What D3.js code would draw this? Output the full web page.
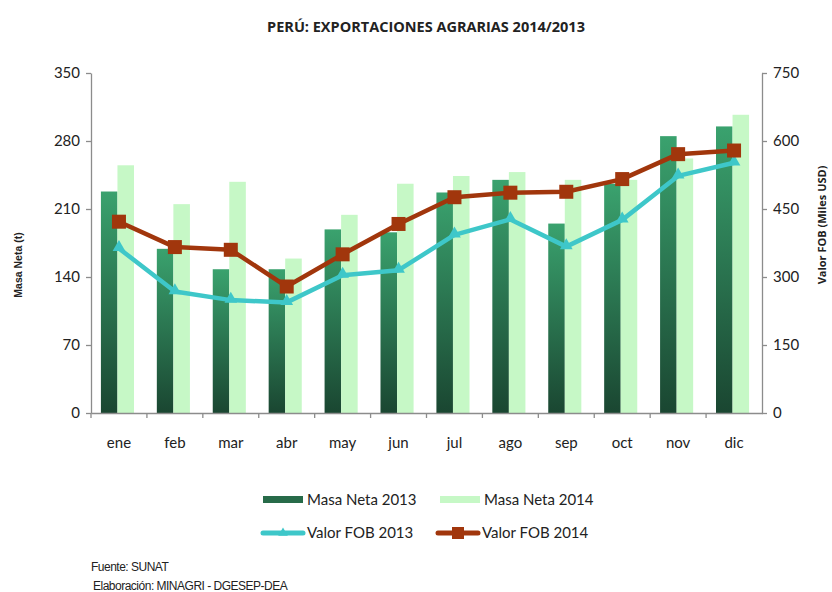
<!DOCTYPE html>
<html lang="es">
<head>
<meta charset="UTF-8">
<title>Perú: Exportaciones agrarias 2014/2013</title>
<style>
    body { margin: 0; background: #fff; }
    text { font-family: Lato, "Open Sans", sans-serif; fill: #222; }
    .tick text { font-size: 15px; }
    text.foot { font-family: "Liberation Sans", Arial, sans-serif; font-size: 12px; letter-spacing: -0.5px; }
</style>
</head>
<body>
<div id="wrapper"></div>
<script src="https://d3js.org/d3.v7.min.js"></script>
<script>
    // datos
    const months = ['ene', 'feb', 'mar', 'abr', 'may', 'jun', 'jul', 'ago', 'sep', 'oct', 'nov', 'dic'];
    const masa2013 = [228, 169, 148, 148, 189, 186, 227, 240, 195, 236, 285, 295];
    const masa2014 = [255, 215, 238, 159, 204, 236, 244, 248, 240, 240, 262, 307];
    const fob2013 = [363, 268, 249, 244, 304, 315, 393, 427, 367, 426, 523, 552];
    const fob2014 = [422, 366, 360, 279, 350, 417, 476, 486, 488, 516, 571, 579];
    const leftTicks = [0, 70, 140, 210, 280, 350];
    const rightTicks = [0, 150, 300, 450, 600, 750];

    const width = 832, height = 592;
    const plotLeft = 91, plotRight = 762, plotTop = 73, plotBottom = 413;

    const svg = d3.select('#wrapper').append('svg')
        .attr('width', width)
        .attr('height', height);

    // degradado de las barras oscuras
    const defs = svg.append('defs');
    const grad = defs.append('linearGradient')
        .attr('id', 'darkGrad')
        .attr('x1', 0).attr('y1', 0).attr('x2', 0).attr('y2', 1);
    grad.append('stop').attr('offset', '0%').attr('stop-color', '#3aa26e');
    grad.append('stop').attr('offset', '100%').attr('stop-color', '#1a4631');

    const x = d3.scaleBand().domain(months).range([plotLeft, plotRight]);
    const x1 = d3.scaleBand().domain(['2013', '2014'])
        .range([-1.5, x.bandwidth() - 1.5])
        .paddingOuter(0.69);
    const yL = d3.scaleLinear().domain([0, 350]).range([plotBottom, plotTop]);
    const yR = d3.scaleLinear().domain([0, 750]).range([plotBottom, plotTop]);

    // barras
    const g = svg.append('g');
    g.selectAll('.b13').data(masa2013).join('rect')
        .attr('class', 'b13')
        .attr('x', (d, i) => x(months[i]) + x1('2013'))
        .attr('y', d => yL(d))
        .attr('width', x1.bandwidth())
        .attr('height', d => yL(0) - yL(d))
        .attr('fill', 'url(#darkGrad)');
    g.selectAll('.b14').data(masa2014).join('rect')
        .attr('class', 'b14')
        .attr('x', (d, i) => x(months[i]) + x1('2014'))
        .attr('y', d => yL(d))
        .attr('width', x1.bandwidth())
        .attr('height', d => yL(0) - yL(d))
        .attr('fill', '#c6f8c6');

    // ejes
    const axisColor = '#8c8c8c';
    const xAxis = svg.append('g')
        .attr('transform', `translate(0,${plotBottom})`)
        .call(d3.axisBottom(x).tickSize(0).tickPadding(24));
    xAxis.select('.domain').attr('stroke', axisColor).attr('stroke-width', 1.3);
    // marcas entre meses
    xAxis.selectAll('.sep').data(months.slice(0, 11)).join('line')
        .attr('class', 'sep')
        .attr('x1', d => x(d) + x.bandwidth())
        .attr('x2', d => x(d) + x.bandwidth())
        .attr('y1', 0).attr('y2', 5)
        .attr('stroke', axisColor)
        .attr('stroke-width', 1.3);
    xAxis.append('line').attr('x1', plotLeft).attr('x2', plotLeft).attr('y1', 0).attr('y2', 5)
        .attr('stroke', axisColor).attr('stroke-width', 1.3);

    const yAxisL = svg.append('g')
        .attr('transform', `translate(${plotLeft},0)`)
        .call(d3.axisLeft(yL).tickValues(leftTicks).tickSizeInner(5).tickSizeOuter(0).tickPadding(6));
    yAxisL.selectAll('path, line').attr('stroke', axisColor).attr('stroke-width', 1.3);

    const yAxisR = svg.append('g')
        .attr('transform', `translate(${plotRight},0)`)
        .call(d3.axisRight(yR).tickValues(rightTicks).tickSizeInner(5).tickSizeOuter(0).tickPadding(6));
    yAxisR.selectAll('path, line').attr('stroke', axisColor).attr('stroke-width', 1.3);

    // lineas
    const line = (arr) => d3.line()
        .x((d, i) => x(months[i]) + x.bandwidth() / 2)
        .y(d => yR(d))(arr);

    const cyan = '#3ec7c9', brown = '#a1360c';

    svg.append('path').attr('d', line(fob2013))
        .attr('fill', 'none').attr('stroke', cyan).attr('stroke-width', 4.5)
        .attr('stroke-linejoin', 'round');
    svg.append('path').attr('d', line(fob2014))
        .attr('fill', 'none').attr('stroke', brown).attr('stroke-width', 4.5)
        .attr('stroke-linejoin', 'round');

    const tri = d3.symbol().type(d3.symbolTriangle).size(70);
    svg.selectAll('.tri').data(fob2013).join('path')
        .attr('class', 'tri')
        .attr('d', tri)
        .attr('transform', (d, i) => `translate(${x(months[i]) + x.bandwidth() / 2},${yR(d) - 1})`)
        .attr('fill', cyan);

    svg.selectAll('.sq').data(fob2014).join('rect')
        .attr('class', 'sq')
        .attr('x', (d, i) => x(months[i]) + x.bandwidth() / 2 - 7)
        .attr('y', d => yR(d) - 7)
        .attr('width', 14).attr('height', 14)
        .attr('fill', brown);

    // titulos
    svg.append('text')
        .attr('x', 426).attr('y', 32)
        .attr('text-anchor', 'middle')
        .style('font-family', '"Open Sans", sans-serif')
        .style('font-size', '14.5px').style('font-weight', 'bold')
        .text('PERÚ: EXPORTACIONES AGRARIAS 2014/2013');

    svg.append('text')
        .attr('transform', 'translate(22,265) rotate(-90)')
        .attr('text-anchor', 'middle')
        .style('font-family', '"Liberation Sans", Arial, sans-serif')
        .style('font-size', '10.5px').style('font-weight', 'bold')
        .text('Masa Neta (t)');

    svg.append('text')
        .attr('transform', 'translate(826,225) rotate(-90)')
        .attr('text-anchor', 'middle')
        .style('font-family', '"Open Sans", sans-serif')
        .style('font-size', '11px').style('font-weight', 'bold')
        .text('Valor FOB (Miles USD)');

    // leyenda
    const legend = svg.append('g');
    const legItems = [
        { label: 'Masa Neta 2013', x: 263, y: 500, type: 'bar', color: '#276b49' },
        { label: 'Masa Neta 2014', x: 440, y: 500, type: 'bar', color: '#c6f8c6' },
        { label: 'Valor FOB 2013', x: 263, y: 533, type: 'tri', color: cyan },
        { label: 'Valor FOB 2014', x: 438, y: 533, type: 'sq', color: brown }
    ];
    legItems.forEach(it => {
        if (it.type === 'bar') {
            legend.append('rect').attr('x', it.x).attr('y', it.y - 4).attr('width', 40).attr('height', 7)
                .attr('fill', it.color);
        } else {
            legend.append('line').attr('x1', it.x).attr('x2', it.x + 40).attr('y1', it.y).attr('y2', it.y)
                .attr('stroke', it.color).attr('stroke-width', 5).attr('stroke-linecap', 'round');
            if (it.type === 'tri') {
                legend.append('path').attr('d', d3.symbol().type(d3.symbolTriangle).size(40))
                    .attr('transform', `translate(${it.x + 20},${it.y})`).attr('fill', it.color);
            } else {
                legend.append('rect').attr('x', it.x + 14).attr('y', it.y - 6).attr('width', 12).attr('height', 12)
                    .attr('fill', it.color);
            }
        }
        legend.append('text').attr('x', it.x + 44).attr('y', it.y + 5)
            .style('font-size', '15px').text(it.label);
    });

    // fuente
    svg.append('text').attr('class', 'foot').attr('x', 91).attr('y', 571).text('Fuente: SUNAT');
    svg.append('text').attr('class', 'foot').attr('x', 93).attr('y', 590).text('Elaboración: MINAGRI - DGESEP-DEA');
</script>
</body>
</html>
